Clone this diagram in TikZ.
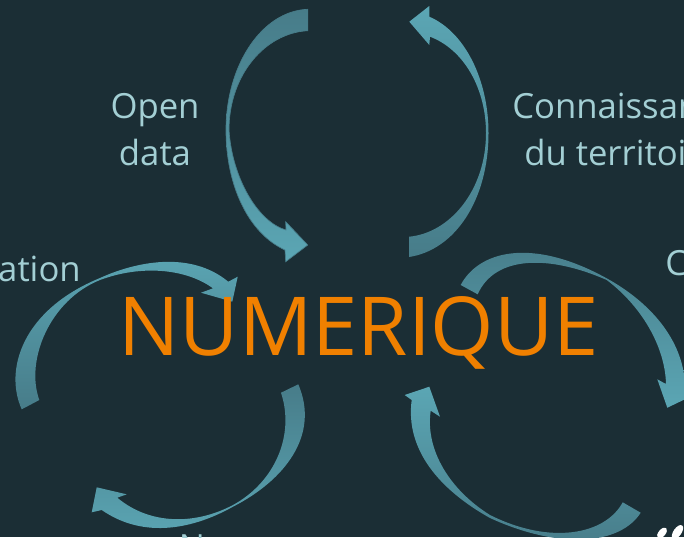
\documentclass[tikz,border=0pt]{standalone}
\usepackage{fontspec}
\setmainfont{Open Sans}
\definecolor{backcol}{HTML}{1B2E35}
\definecolor{arrowdark}{HTML}{477C89}
\definecolor{arrowlight}{HTML}{5BA6B4}
\definecolor{labelcol}{HTML}{A3CFD4}
\definecolor{titlecol}{HTML}{F08000}
\tikzset{
  labeltext/.style={text=labelcol,font=\fontsize{26}{30}\selectfont,anchor=base,inner sep=0pt},
  titletext/.style={text=titlecol,font=\fontsize{61}{70}\selectfont,anchor=base,inner sep=0pt},
  arrowdown/.style={top color=arrowdark,bottom color=arrowlight},
  arrowup/.style={top color=arrowlight,bottom color=arrowdark}
}
\begin{document}
\begin{tikzpicture}[x=0.75pt,y=-0.75pt]
	\useasboundingbox (0,0) rectangle (684,537);
	\fill[backcol] (0,0) rectangle (684,537);
	\clip (0,0) rectangle (684,537);

	% upper pair
	\shadedraw[arrowdown,draw=arrowdark,line width=0.5pt] (307.7,9.3) .. controls (262,11) and (226,65) .. (226,130) .. controls (226,185) and (248,233) .. (285,250) -- (285.7,261.7) -- (307.7,245) -- (285.7,221.7) -- (286,230) .. controls (258,222) and (232,178) .. (229,130) .. controls (229,75) and (265,33) .. (307.7,30.7) -- cycle;
	\shade[arrowup] (409.3,21.7) -- (429.3,6) -- (429.3,16.7) .. controls (465,32) and (488.5,80) .. (488.5,133) .. controls (488.5,200) and (455,250) .. (409,257) -- (409,236.7) .. controls (450,233) and (486,190) .. (486,133) .. controls (486,90) and (465,50) .. (430,36.7) -- (429.3,45) -- cycle;

	% left pair
	\shade[arrowup] (21.7,409.3) .. controls (4,370) and (22,310) .. (100,278) .. controls (135,262) and (190,250) .. (228.3,281.7) -- (237.7,276.7) -- (232.3,301.7) -- (201,292.7) -- (213,288.3) .. controls (185,268) and (140,265) .. (100,280) .. controls (50,300) and (25,360) .. (39.3,400) -- cycle;
	\shade[arrowdown] (281,392.7) -- (298.3,384.3) .. controls (320,435) and (285,480) .. (233,506.7) .. controls (195,528) and (145,540) .. (101.7,510) -- (91.7,512.3) -- (96.7,487.3) -- (126.7,494.3) -- (117.3,497.7) .. controls (150,525) and (195,525) .. (233,505) .. controls (275,482) and (295,435) .. (281,392.7) -- cycle;

	% right pair
	\shade[arrowdown] (460.7,285) .. controls (478,252) and (530,236) .. (606.7,278.3) .. controls (655,305) and (685,345) .. (685,388) -- (698,393) -- (667.3,407.7) -- (657.3,379.3) -- (666,384) .. controls (665,345) and (640,305) .. (606.7,280) .. controls (550,255) and (495,255) .. (477.7,294.3) -- cycle;
	\shade[arrowup] (622.7,502.3) -- (640.7,512.7) .. controls (620,545) and (560,550) .. (490,518) .. controls (440,490) and (405,450) .. (411.7,400) -- (404.7,395) -- (429.3,386.7) -- (440,416.7) -- (430.7,410.7) .. controls (425,450) and (450,490) .. (490,515) .. controls (550,545) and (605,535) .. (622.7,502.3) -- cycle;

	% logo specks, bottom right
	\fill[white] (662,533) ellipse[x radius=6.5,y radius=3.5,rotate=50];
	\fill[white] (677.5,532) ellipse[x radius=8,y radius=4,rotate=55];

	\node[titletext] (numerique) at (358.5,355) {NUMERIQUE};
	\node[labeltext] (open) at (155,118) {Open};
	\node[labeltext] (data) at (155,165) {data};
	\node[labeltext,anchor=base west] (connaissan) at (512,118) {Connaissan};
	\node[labeltext,anchor=base west] (territoi) at (524,165) {du territoi};
	\node[labeltext,anchor=base east] (ation) at (81,281) {ation};
	\node[labeltext,anchor=base west] (cletter) at (665,275) {C};
	\node[labeltext] (nletter) at (192,559) {N};
\end{tikzpicture}
\end{document}
